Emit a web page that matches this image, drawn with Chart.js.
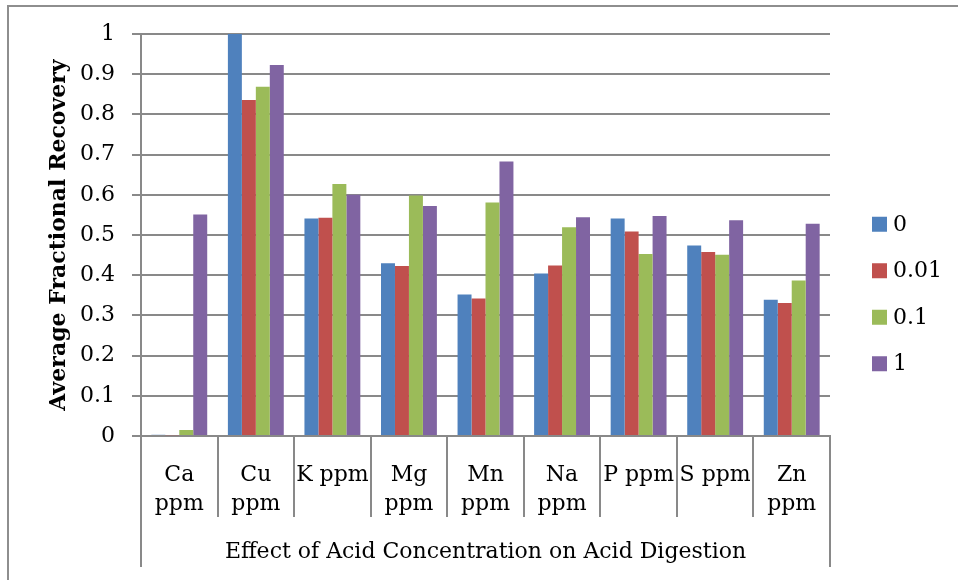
<!DOCTYPE html>
<html>
<head>
<meta charset="utf-8">
<script src="https://cdn.jsdelivr.net/npm/chart.js@4.4.1/dist/chart.umd.min.js"></script>
<style>
  body { margin: 0; background: #fff; }
  canvas { display: block; }
</style>
</head>
<body>
<canvas id="chart" width="958" height="580"></canvas>
<script>
// categories (multi-line labels like the original)
const categories = [["Ca", "ppm"], ["Cu", "ppm"], "K ppm", ["Mg", "ppm"], ["Mn", "ppm"], ["Na", "ppm"], "P ppm", "S ppm", ["Zn", "ppm"]];
const seriesNames = ["0", "0.01", "0.1", "1"];
const seriesColors = ["#4F81BD", "#C0504D", "#9BBB59", "#8064A2"];

// average fractional recovery per acid concentration
const acid0   = [0.003, 1.000, 0.541, 0.430, 0.352, 0.404, 0.541, 0.474, 0.339];
const acid001 = [0.002, 0.836, 0.543, 0.423, 0.342, 0.424, 0.509, 0.458, 0.331];
const acid01  = [0.015, 0.869, 0.627, 0.598, 0.581, 0.519, 0.453, 0.451, 0.387];
const acid1   = [0.551, 0.923, 0.600, 0.572, 0.683, 0.544, 0.547, 0.537, 0.528];

const yTicks = [0, 0.1, 0.2, 0.3, 0.4, 0.5, 0.6, 0.7, 0.8, 0.9, 1];
const xTitle = "Effect of Acid Concentration on Acid Digestion";
const yTitle = "Average Fractional Recovery";

const GRID = "#898989";
const FONT = "DejaVu Serif";
const FS = 22;

// frame, outer boxes of the category axis and the legend
const extras = {
    id: "extras",
    beforeDraw(chart) {
        const ctx = chart.ctx;
        ctx.save();
        ctx.strokeStyle = "#8e8e8e";
        ctx.lineWidth = 2;
        ctx.beginPath();
        ctx.moveTo(8, chart.height);
        ctx.lineTo(8, 6);
        ctx.lineTo(chart.width, 6);
        ctx.stroke();
        ctx.restore();
    },
    afterDraw(chart) {
        const ctx = chart.ctx;
        const x = chart.scales.x;
        ctx.save();
        ctx.strokeStyle = GRID;
        ctx.lineWidth = 2;
        ctx.beginPath();
        ctx.moveTo(x.left, x.top);
        ctx.lineTo(x.left, x.top + 131);
        ctx.moveTo(x.right, x.top);
        ctx.lineTo(x.right, x.top + 131);
        ctx.stroke();

        // legend
        const lx = chart.chartArea.right + 42;
        const mid = chart.height / 2 + 4;
        ctx.font = FS + "px '" + FONT + "'";
        ctx.textBaseline = "middle";
        ctx.textAlign = "left";
        chart.data.datasets.forEach((ds, i) => {
            const y = mid + (i - 1.5) * 46.5;
            ctx.fillStyle = ds.backgroundColor;
            ctx.fillRect(lx, y - 7.5, 15, 15);
            ctx.fillStyle = "#000";
            ctx.fillText(ds.label, lx + 21, y + 1);
        });
        ctx.restore();
    }
};

const series = [acid0, acid001, acid01, acid1];

new Chart(document.getElementById("chart"), {
    type: "bar",
    data: {
        labels: categories,
        datasets: series.map((d, i) => ({
            label: seriesNames[i],
            data: d,
            backgroundColor: seriesColors[i],
            borderWidth: 0,
            barPercentage: 1,
            categoryPercentage: 0.73
        }))
    },
    options: {
        responsive: false,
        animation: false,
        layout: { padding: { top: 34, right: 128, bottom: 0, left: 0 } },
        plugins: {
            legend: { display: false },
            tooltip: { enabled: false }
        },
        scales: {
            x: {
                offset: true,
                grid: {
                    offset: true,
                    drawOnChartArea: false,
                    drawTicks: true,
                    tickLength: 81,
                    color: GRID,
                    lineWidth: 2
                },
                border: { display: true, color: GRID, width: 2 },
                ticks: {
                    autoSkip: false,
                    maxRotation: 0,
                    padding: -56,
                    color: "#000",
                    font: { family: FONT, size: FS, lineHeight: 1.3 }
                },
                title: {
                    display: true,
                    text: xTitle,
                    color: "#000",
                    font: { family: FONT, size: FS, lineHeight: 1.2 },
                    padding: { top: 0, bottom: 15 }
                },
                afterFit(scale) { scale.height = 144; }
            },
            y: {
                min: 0,
                max: 1,
                afterBuildTicks(scale) { scale.ticks = yTicks.map(v => ({ value: v })); },
                grid: {
                    color: GRID,
                    lineWidth: 2,
                    drawTicks: true,
                    tickLength: 9
                },
                border: { display: true, color: GRID, width: 2 },
                ticks: {
                    padding: 17,
                    color: "#000",
                    font: { family: FONT, size: FS },
                    callback: v => String(v)
                },
                title: {
                    display: true,
                    text: yTitle,
                    color: "#000",
                    font: { family: FONT, size: FS, weight: "bold", lineHeight: 1.2 },
                    padding: { top: 46, bottom: 0 }
                },
                afterFit(scale) { scale.width = 141; }
            }
        }
    },
    plugins: [extras]
});
</script>
</body>
</html>
